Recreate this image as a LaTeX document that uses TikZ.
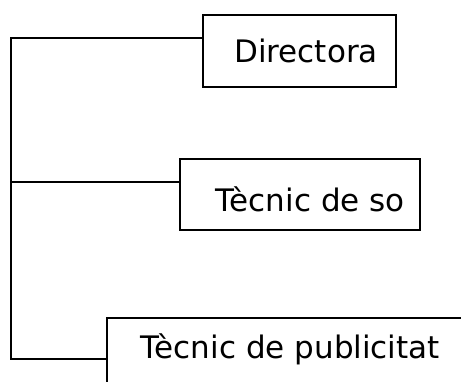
\documentclass[tikz,border=0pt]{standalone}
\usepackage{fontspec}
\setmainfont{DejaVu Sans}
\usetikzlibrary{positioning}
\tikzset{
  post/.style={draw, line width=1.5pt, anchor=north west, inner sep=0pt},
  postname/.style={anchor=base west, inner sep=0pt, font=\fontsize{31}{34}\selectfont},
  branch/.style={line width=1.5pt}
}
\begin{document}
\begin{tikzpicture}[x=1pt, y=-1pt]
  \clip (0,0) rectangle (461,381);
  % boxes
  \node[post, minimum width=193pt, minimum height=72pt] (dir) at (202,14) {};
  \node[post, minimum width=240pt, minimum height=71pt] (so) at (179,158) {};
  \node[post, minimum width=400pt, minimum height=120pt] (pub) at (106,317) {};
  % names
  \node[postname] (dirname) at (234,62) {Directora};
  \node[postname] (soname) at (215,211) {Tècnic de so};
  \node[postname] (pubname) at (140,358) {Tècnic de publicitat};
  % tree
  \coordinate (t1) at (11,38);
  \coordinate (t2) at (11,182);
  \coordinate (t3) at (11,359);
  \draw[branch] (dir.west |- t1) -- (t1) -- (t3) -- (pub.west |- t3);
  \draw[branch] (t2) -- (so.west |- t2);
\end{tikzpicture}
\end{document}
